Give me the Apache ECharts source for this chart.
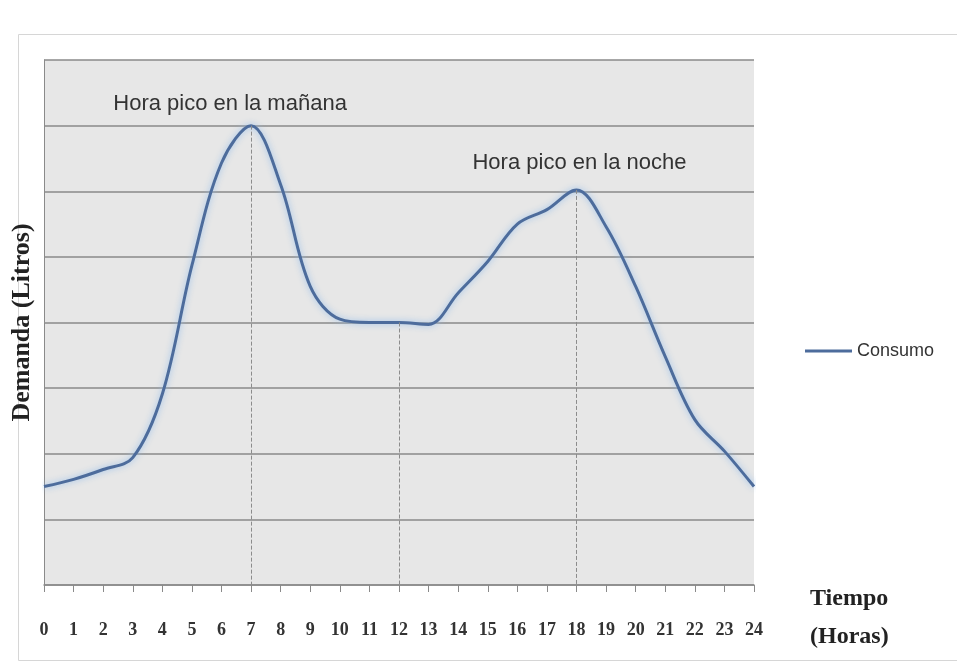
<!DOCTYPE html>
<html>
<head>
<meta charset="utf-8">
<script src="https://cdn.jsdelivr.net/npm/echarts@6/dist/echarts.min.js"></script>
<style>
html,body{margin:0;padding:0;background:#fff;}
#c{width:957px;height:662px;}
</style>
</head>
<body>
<div id="c"></div>
<script>
const hours = [0,1,2,3,4,5,6,7,8,9,10,11,12,13,14,15,16,17,18,19,20,21,22,23,24];
const consumo = [1.5,1.61,1.76,1.94,2.91,4.87,6.43,7.0,6.1,4.55,4.05,4.0,4.0,3.97,4.45,4.93,5.5,5.72,6.02,5.46,4.55,3.48,2.52,2.04,1.5];
const seriesName = 'Consumo';
const peakLabels = ['Hora pico en la mañana','Hora pico en la noche'];
const peakHours = [7,18];
const refHour = 12;
const xTitle = 'Tiempo\n(Horas)';
const yTitle = 'Demanda (Litros)';

const valAt = h => consumo[hours.indexOf(h)];
const chart = echarts.init(document.getElementById('c'));
const lineColor = '#4d6c9c';

chart.setOption({
  backgroundColor:'#ffffff',
  animation:false,
  grid:{left:44,right:203,top:60,bottom:77,show:true,backgroundColor:'#e7e7e7',borderWidth:0},
  legend:{
    orient:'vertical', left:800, top:337,
    icon:'rect', itemWidth:47, itemHeight:3, itemGap:4,
    textStyle:{fontFamily:'Liberation Sans', fontSize:18, color:'#333'},
    data:[seriesName]
  },
  xAxis:{
    type:'value', min:0, max:24, interval:1,
    axisLine:{show:true, lineStyle:{color:'#8a8a8a', width:1.5}},
    axisTick:{show:true, length:7, lineStyle:{color:'#8a8a8a'}},
    axisLabel:{margin:36, fontFamily:'Liberation Serif', fontWeight:'bold', fontSize:18, color:'#333'},
    splitLine:{show:false}
  },
  yAxis:{
    type:'value', min:0, max:8, interval:1,
    name:yTitle, nameLocation:'middle', nameGap:9,
    nameTextStyle:{fontFamily:'Liberation Serif', fontWeight:'bold', fontSize:26, color:'#222'},
    axisLine:{show:true, lineStyle:{color:'#8a8a8a', width:1}},
    axisTick:{show:false},
    axisLabel:{show:false},
    splitLine:{show:true, lineStyle:{color:'#8a8a8a', width:1.5}}
  },
  graphic:[
    {type:'rect', left:16, top:32, shape:{width:939, height:626}, style:{fill:'none', stroke:'#d6d6d6', lineWidth:1}, z:-1},
    {type:'text', left:810, top:580, style:{text:xTitle, fontFamily:'Liberation Serif', fontWeight:'bold', fontSize:24, lineHeight:38, fill:'#222'}}
  ],
  series:[{
    name:seriesName, type:'line', smooth:0.35,
    data:hours.map((h,i)=>[h,consumo[i]]),
    symbol:'none',
    lineStyle:{color:lineColor, width:3, shadowColor:'rgba(140,185,235,0.9)', shadowBlur:6},
    itemStyle:{color:lineColor},
    markLine:{
      silent:true, symbol:'none',
      label:{show:false},
      lineStyle:{color:'#8c8c8c', type:'dashed', width:1},
      data:[
        [{coord:[peakHours[0], valAt(peakHours[0])]},{coord:[peakHours[0],0]}],
        [{coord:[refHour, valAt(refHour)]},{coord:[refHour,0]}],
        [{coord:[peakHours[1], valAt(peakHours[1])]},{coord:[peakHours[1],0]}]
      ]
    },
    markPoint:{
      silent:true, symbol:'circle', symbolSize:1,
      itemStyle:{color:'rgba(0,0,0,0)'},
      label:{show:true, position:'inside', fontFamily:'Liberation Sans', fontSize:22, color:'#333'},
      data:[
        {coord:[peakHours[0], valAt(peakHours[0])], label:{formatter:peakLabels[0], offset:[-21,-22]}},
        {coord:[peakHours[1], valAt(peakHours[1])], label:{formatter:peakLabels[1], offset:[3,-27]}}
      ]
    }
  }]
});
</script>
</body>
</html>
